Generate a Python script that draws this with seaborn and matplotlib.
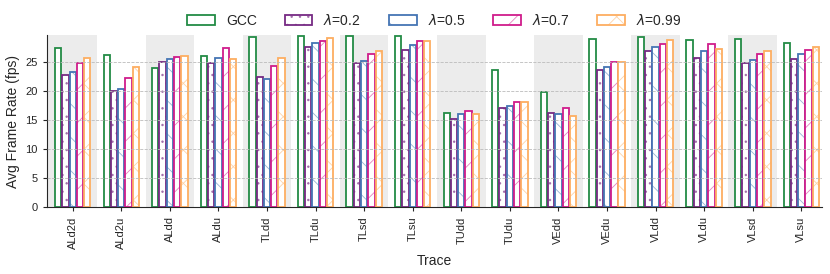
import numpy as np
import pandas as pd
import matplotlib
matplotlib.use("Agg")
import matplotlib.pyplot as plt
import seaborn as sns
from matplotlib.colors import to_rgba

# frame rates per trace
traces = ["ALd2d", "ALd2u", "ALdd", "ALdu", "TLdd", "TLdu", "TLsd", "TLsu",
          "TUdd", "TUdu", "VEdd", "VEdu", "VLdd", "VLdu", "VLsd", "VLsu"]
gcc = [27.4, 26.3, 24.0, 26.1, 29.4, 29.6, 29.6, 29.6,
       16.2, 23.7, 19.9, 29.0, 29.3, 28.8, 29.0, 28.4]
lam02 = [22.8, 20.1, 25.0, 24.8, 22.5, 27.7, 24.8, 27.1,
         15.3, 17.2, 16.2, 23.7, 26.9, 25.8, 24.9, 25.6]
lam05 = [23.4, 20.4, 25.6, 25.7, 22.1, 28.4, 25.2, 28.0,
         16.1, 17.5, 16.1, 24.1, 27.6, 27.0, 25.4, 26.4]
lam07 = [24.8, 22.3, 25.9, 27.4, 24.4, 28.7, 26.4, 28.7,
         16.6, 18.2, 17.2, 25.1, 28.2, 28.2, 26.5, 27.1]
lam099 = [25.8, 24.2, 26.0, 25.5, 25.8, 29.1, 27.0, 28.7,
          16.0, 18.1, 15.7, 25.1, 28.8, 27.2, 26.9, 27.6]

methods = ["GCC", r"$\lambda$=0.2", r"$\lambda$=0.5", r"$\lambda$=0.7", r"$\lambda$=0.99"]
colors = ["#238b45", "#762a83", "#4575b4", "#d01c8b", "#fdae61"]
hatches = ["", "..", "\\", "/", "x"]

rows = []
for m, vals in zip(methods, [gcc, lam02, lam05, lam07, lam099]):
    for t, v in zip(traces, vals):
        rows.append({"Trace": t, "Method": m, "fps": v})
df = pd.DataFrame(rows)

sns.set_style("ticks")
plt.rcParams["font.family"] = ["Liberation Sans", "DejaVu Sans"]
plt.rcParams["hatch.linewidth"] = 0.6

fig = plt.figure(figsize=(8.3, 2.74), dpi=100)
ax = fig.add_axes([0.0563, 0.2434, 0.9337, 0.6289])

# shade every other trace group
for i in range(0, len(traces), 2):
    ax.axvspan(i - 0.5, i + 0.5, color="#ececec", lw=0, zorder=0)

sns.barplot(data=df, x="Trace", y="fps", hue="Method", palette=colors,
            width=0.75, gap=0.12, fill=False, linewidth=1.3, ax=ax, legend=False)

for cont, c, h in zip(ax.containers, colors, hatches):
    light = to_rgba(c, 0.55)
    for p in cont.patches:
        p.set_facecolor("white")
        p.set_edgecolor(c)
        p.set_hatch(h)
        p._hatch_color = light
        p.set_zorder(2)

ax.yaxis.grid(True, ls="--", lw=0.6, color="#bbbbbb", zorder=3)
ax.set_axisbelow(False)
ax.set_xlim(-0.535, 15.42)
ax.set_ylim(0, 29.7)
ax.set_yticks([0, 5, 10, 15, 20, 25])
ax.tick_params(axis="x", labelrotation=90, labelsize=8, length=3)
ax.tick_params(axis="y", labelsize=8, length=3)
ax.set_ylabel("Avg Frame Rate (fps)", fontsize=10)
ax.set_xlabel("Trace", fontsize=10)
sns.despine(ax=ax)

handles = [cont.patches[0] for cont in ax.containers]
ax.legend(handles=handles, labels=methods, ncol=5, loc="lower center",
          bbox_to_anchor=(0.5, 1.0), frameon=False, fontsize=10,
          columnspacing=2.0, borderaxespad=0.1)

plt.savefig("out.png", dpi=100)
